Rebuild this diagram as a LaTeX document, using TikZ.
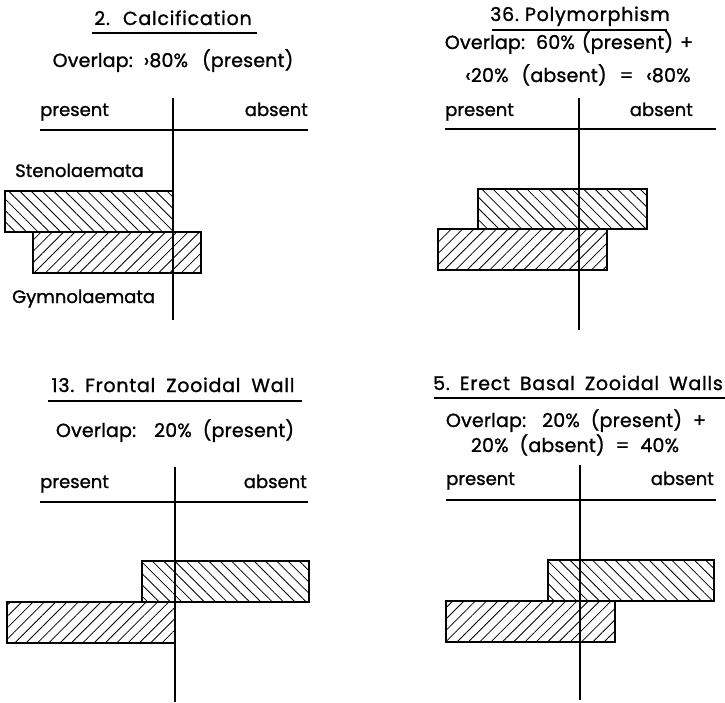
\documentclass[tikz,border=0pt]{standalone}
\usepackage{fontspec}
\setmainfont{Poppins}
\newfontfamily\lblfont[FakeBold=1.2]{Poppins}
\newfontfamily\ovlfont[LetterSpace=1,FakeBold=1.2]{Poppins}
\newfontfamily\ttlfont[LetterSpace=4,FakeBold=1.2]{Poppins}
\newcommand\wg[1]{\hspace{#1pt}}
\usetikzlibrary{patterns.meta}
\begin{document}
\begin{tikzpicture}[x=1pt,y=-1pt,
  lbl/.style={font=\lblfont\fontsize{18}{21}\selectfont, inner sep=0pt},
  ovl/.style={font=\ovlfont\fontsize{19}{22}\selectfont, inner sep=0pt},
  ttl/.style={font=\ttlfont\fontsize{19}{22}\selectfont, inner sep=0pt},
  axisline/.style={line width=1.8pt},
  uline/.style={line width=1.4pt},
  barA/.style={line width=2pt, pattern={Lines[angle=-45,distance=8pt,line width=0.8pt]}},
  barB/.style={line width=2pt, pattern={Lines[angle=45,distance=8pt,line width=0.8pt]}},
]
\fill[white] (0,0) rectangle (725,703);
\useasboundingbox (0,0) rectangle (725,703);

% ---------- Panel 1 ----------
\node[ttl, anchor=base] (t1) at (173,25) {2.\wg{13}Calcification};
\draw[uline] (92,33) -- (257,33);
\node[ovl, anchor=base] (o1) at (173,67) {Overlap:\wg{11}›80\%\wg{14}(present)};
\node[lbl, anchor=base west] (p1) at (40,116) {present};
\node[lbl, anchor=base east] (a1) at (308,116) {absent};
\draw[barA] (5,191) rectangle (173,232);
\draw[barB] (33,232) rectangle (201,273);
\node[lbl, anchor=base west] (s1) at (15,177) {Stenolaemata};
\node[lbl, anchor=base west] (g1) at (12,303) {Gymnolaemata};
\draw[axisline] (40,130) -- (308,130);
\draw[axisline] (173,98) -- (173,320);

% ---------- Panel 2 ----------
\node[ttl, anchor=base] (t2) at (580,21) {36.\wg{6}Polymorphism};
\draw[uline] (492,30) -- (667,30);
\node[ovl, anchor=base] (o2a) at (569,49) {Overlap:\wg{11}60\%\wg{7}(present)\wg{7}+};
\node[ovl, anchor=base] (o2b) at (578,82) {‹20\%\wg{13}(absent)\wg{13}=\wg{13}‹80\%};
\node[lbl, anchor=base west] (p2) at (445,116) {present};
\node[lbl, anchor=base east] (a2) at (693,116) {absent};
\draw[barA] (478,189) rectangle (647,229);
\draw[barB] (438,229) rectangle (607,270);
\draw[axisline] (445,129) -- (716,129);
\draw[axisline] (579,98) -- (579,330);

% ---------- Panel 3 ----------
\node[ttl, anchor=base] (t3) at (173,392) {13.\wg{11}Frontal\wg{11}Zooidal\wg{11}Wall};
\draw[uline] (48,401) -- (302,401);
\node[ovl, anchor=base] (o3) at (175,437) {Overlap:\wg{18}20\%\wg{11}(present)};
\node[lbl, anchor=base west] (p3) at (40,488) {present};
\node[lbl, anchor=base east] (a3) at (307,488) {absent};
\draw[barA] (142,561) rectangle (309,602);
\draw[barB] (7,602) rectangle (175,643);
\draw[axisline] (40,502) -- (308,502);
\draw[axisline] (175,467) -- (175,702);

% ---------- Panel 4 ----------
\node[ttl, anchor=base] (t4) at (578,390) {5.\wg{10}Erect\wg{10}Basal\wg{10}Zooidal\wg{10}Walls};
\draw[uline] (434,398) -- (725,398);
\node[ovl, anchor=base] (o4a) at (576,427) {Overlap:\wg{16}20\%\wg{11}(present)\wg{11}+};
\node[ovl, anchor=base] (o4b) at (575,452) {20\%\wg{11}(absent)\wg{11}=\wg{11}40\%};
\node[lbl, anchor=base west] (p4) at (446,485) {present};
\node[lbl, anchor=base east] (a4) at (714,485) {absent};
\draw[barA] (548,560) rectangle (714,601);
\draw[barB] (446,601) rectangle (615,642);
\draw[axisline] (446,500) -- (716,500);
\draw[axisline] (580,465) -- (580,700);
\end{tikzpicture}
\end{document}
